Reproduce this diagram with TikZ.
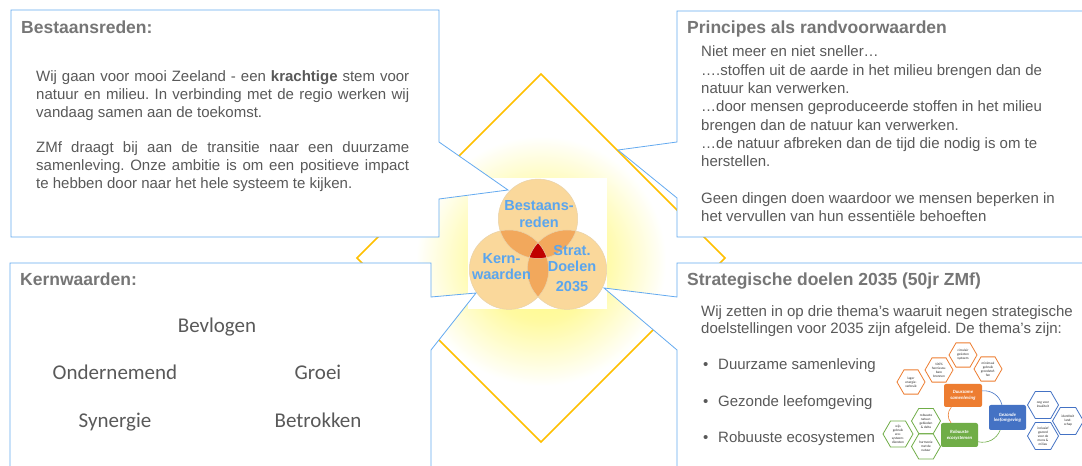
\documentclass[tikz,border=0pt]{standalone}
\usepackage{fontspec}
\setmainfont{Liberation Sans}
\newfontfamily\calfont{Carlito}
\usetikzlibrary{shapes.geometric}
\frenchspacing

\definecolor{boxblue}{RGB}{100,170,240}
\definecolor{diagold}{RGB}{255,192,0}
\definecolor{txtgray}{RGB}{89,89,89}
\definecolor{ttlgray}{RGB}{118,118,118}
\definecolor{venn}{RGB}{250,216,155}
\definecolor{vennline}{RGB}{232,210,170}
\definecolor{venndark}{RGB}{242,168,92}
\definecolor{vennred}{RGB}{192,0,0}
\definecolor{vennblue}{RGB}{90,165,238}
\definecolor{hexorange}{RGB}{237,125,49}
\definecolor{hexblue}{RGB}{68,114,196}
\definecolor{hexgreen}{RGB}{112,173,71}
\definecolor{glowin}{RGB}{255,248,120}

\pgfdeclareradialshading{glow}{\pgfpoint{0bp}{0bp}}{color(0bp)=(glowin); color(12bp)=(glowin!70!white); color(25bp)=(white); color(50bp)=(white)}

\begin{document}
\begin{tikzpicture}[x=1pt, y=1pt,
		callout/.style={draw=boxblue, fill=white, line width=0.8pt},
		title/.style={anchor=base west, inner sep=0pt, text=ttlgray, font=\bfseries\fontsize{17.5}{20}\selectfont},
		body/.style={anchor=north west, inner sep=0pt, text=txtgray, font=\fontsize{15}{18}\selectfont},
		kwval/.style={anchor=base, inner sep=0pt, text=txtgray, font=\calfont\fontsize{21}{24}\selectfont},
		venntext/.style={inner sep=0pt, align=center, text=vennblue, font=\bfseries\fontsize{14.5}{16.5}\selectfont},
		hexcell/.style={regular polygon, regular polygon sides=6, draw=#1, fill=white, line width=0.8pt, minimum size=29pt, inner sep=0pt, align=center, text=black!85, font=\calfont\fontsize{3.4}{4}\selectfont},
		theme/.style={fill=#1, rounded corners=2pt, minimum width=37pt, minimum height=24pt, inner sep=0pt, align=center, text=white, font=\calfont\bfseries\itshape\fontsize{4.8}{5.4}\selectfont},
		link/.style={draw=#1, line width=0.6pt, bend left=40}
		]
		
		\useasboundingbox (0,0) rectangle (1082,466);
		\fill[white] (0,0) rectangle (1082,466);
		
		% glow and diamond
		\begin{scope}
			\clip (541,392) -- (725,208) -- (541,24) -- (357,208) -- cycle;
			\shade[shading=glow] (541,205) circle[radius=125];
		\end{scope}
		\draw[diagold, line width=1.5pt] (541,392) -- (725,208) -- (541,24) -- (357,208) -- cycle;
		
		% Venn
		\fill[white] (468,157) rectangle (607,288);
		\foreach \c in {(538,247.2),(509,196.3),(567,196.3)}
			\fill[venn] \c circle[radius=39.7];
		\begin{scope}
			\clip (538,247.2) circle[radius=39.7];
			\fill[venndark] (509,196.3) circle[radius=39.7];
			\fill[venndark] (567,196.3) circle[radius=39.7];
		\end{scope}
		\begin{scope}
			\clip (509,196.3) circle[radius=39.7];
			\fill[venndark] (567,196.3) circle[radius=39.7];
			\clip (538,247.2) circle[radius=39.7];
			\fill[vennred] (567,196.3) circle[radius=39.7];
		\end{scope}
		\foreach \c in {(538,247.2),(509,196.3),(567,196.3)}
			\draw[vennline, line width=0.5pt] \c circle[radius=39.7];
		\node[venntext] (vBestaans) at (539,251.7) {Bestaans-\\reden};
		\node[venntext] (vKern) at (501.5,199.5) {Kern-\\waarden};
		\node[venntext] (vStrat) at (572,197.7) {Strat.\\Doelen\\[3.5pt]2035};
		
		% Bestaansreden
		\draw[callout] (11,456) -- (439,456) -- (439,324) -- (508,276) -- (439,267) -- (439,229) -- (11,229) -- cycle;
		\node[title] (bestaans) at (21,432.7) {Bestaansreden:};
		\node[body, text width=373pt, align=justify] (bestaanstxt) at (36,395.2) {\tolerance=9999 Wij gaan voor mooi Zeeland - een \textbf{krachtige} stem voor\linebreak natuur en milieu. In verbinding met de regio werken wij\linebreak vandaag samen aan de toekomst.\par\vspace{17pt}ZMf draagt bij aan de transitie naar een duurzame\linebreak samenleving. Onze ambitie is om een positieve impact\linebreak te hebben door naar het hele systeem te kijken.};
		
		% Principes
		\draw[callout] (1090,455) -- (677,455) -- (677,324) -- (618,316) -- (677,268) -- (677,229) -- (1090,229);
		\node[title] (principes) at (687,432.7) {Principes als randvoorwaarden};
		\node[body, align=left, font=\fontsize{15}{18.3}\selectfont] (principestxt) at (701,420.2) {Niet meer en niet sneller…\\….stoffen uit de aarde in het milieu brengen dan de\\natuur kan verwerken.\\…door mensen geproduceerde stoffen in het milieu\\brengen dan de natuur kan verwerken.\\…de natuur afbreken dan de tijd die nodig is om te\\herstellen.\\[18.3pt]Geen dingen doen waardoor we mensen beperken in\\het vervullen van hun essentiële behoeften};
		
		% Kernwaarden
		\draw[callout] (10,-10) -- (10,203) -- (431,203) -- (431,169) -- (476,173) -- (431,116) -- (431,-10);
		\node[title] (kern) at (20,180) {Kernwaarden:};
		\node[kwval] (bevlogen) at (217,133.5) {Bevlogen};
		\node[kwval] (ondernemend) at (115,86) {Ondernemend};
		\node[kwval] (groei) at (318,86) {Groei};
		\node[kwval] (synergie) at (115,38.5) {Synergie};
		\node[kwval] (betrokken) at (318,38.5) {Betrokken};
		
		% Strategische doelen
		\draw[callout] (1090,203) -- (677,203) -- (677,169) -- (604,178) -- (677,116) -- (677,-10);
		\node[title] (doelen) at (687,180) {Strategische doelen 2035 (50jr ZMf)};
		\node[body, align=left, font=\fontsize{15}{17.5}\selectfont] (doelentxt) at (701,160.9) {Wij zetten in op drie thema’s waaruit negen strategische\\doelstellingen voor 2035 zijn afgeleid. De thema’s zijn:};
		\node[body, anchor=base west] (bulDuurz) at (703,96) {\makebox[15pt][l]{•}Duurzame samenleving};
		\node[body, anchor=base west] (bulGezond) at (703,59.3) {\makebox[15pt][l]{•}Gezonde leefomgeving};
		\node[body, anchor=base west] (bulRobuust) at (703,23.3) {\makebox[15pt][l]{•}Robuuste ecosystemen};
		
		% thema's met doelen
		\node[hexcell=hexorange, minimum size=28pt] (lager) at (911,84) {lager\\energie-\\verbruik};
		\node[hexcell=hexorange, minimum size=28pt] (hernieuw) at (939,96) {100\%\\hernieuw-\\bare\\bronnen};
		\node[hexcell=hexorange, minimum size=28pt] (circulair) at (963,111) {circulair\\gesloten\\systeem};
		\node[hexcell=hexorange, minimum size=28pt] (minimaal) at (988,97) {minimaal\\gebruik\\grondstof-\\fen};
		\node[hexcell=hexblue, minimum size=31pt] (oog) at (1043,61) {oog voor\\kwaliteit};
		\node[hexcell=hexblue, minimum size=31pt] (identiteit) at (1068,45) {identiteit\\land-\\schap};
		\node[hexcell=hexblue, minimum size=31pt] (inclusief) at (1043,30) {inclusief\\gezond\\voor de\\mens \&\\milieu};
		\node[hexcell=hexgreen] (natuurgeb) at (926,45) {robuuste\\natuur-\\gebieden\\\& delta};
		\node[hexcell=hexgreen] (wijs) at (898,32) {wijs\\gebruik\\eco-\\systeem-\\diensten};
		\node[hexcell=hexgreen] (harmonie) at (926,19.5) {harmonie\\met de\\natuur};
		
		\node[theme=hexorange, minimum width=38pt, minimum height=23pt] (duurz) at (963,70.5) {Duurzame\\samenleving};
		\node[theme=hexblue, minimum height=25pt] (gezond) at (1007.5,48.5) {Gezonde\\leefomgeving};
		\node[theme=hexgreen] (robuust) at (959.5,31) {Robuuste\\ecosystemen};
		\draw[link=hexblue] (duurz) to (gezond);
		\draw[link=hexgreen] (gezond) to (robuust);
		\draw[link=hexorange] (robuust) to (duurz);
		
	\end{tikzpicture}
\end{document}
